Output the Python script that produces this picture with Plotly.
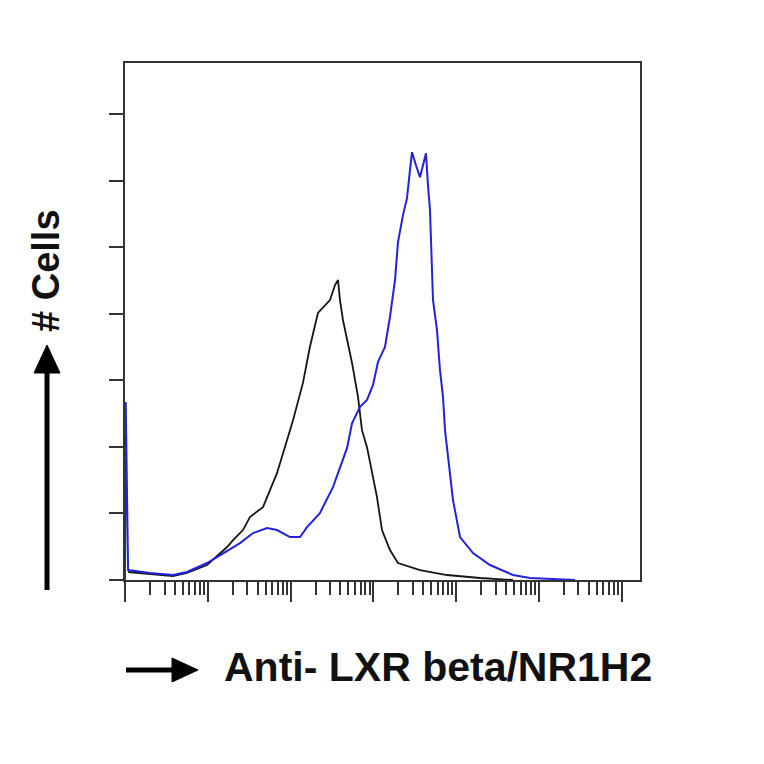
import plotly.graph_objects as go

# Fluorescence intensity (log axis) and cell counts
blue_x = [1.0, 1.02, 1.09, 2.0, 3.8, 5.6, 9.8, 15.3, 24.5, 35.2, 51.9, 68.5, 98.4,
          130, 158, 226, 325, 480, 552, 689, 837, 990, 1136, 1380, 1585, 1824, 1982,
          2276, 2545, 2767, 2925, 3268, 3654, 3972, 4316, 4563, 4827, 5245, 5861,
          6370, 6930, 7325, 8415, 9150, 11120, 15960, 25590, 48530, 77830, 135800,
          272200]
blue_y = [0, 53.5, 3.0, 2.1, 1.5, 2.4, 5.1, 8.1, 11.1, 14.1, 15.6, 15.0, 12.9,
          12.9, 15.9, 20.1, 27.9, 39.6, 47.1, 52.0, 54.1, 58.6, 65.5, 70.0, 79.0,
          90.1, 101.5, 109.6, 114.7, 123.1, 128.5, 124.6, 121.0, 124.6, 128.2,
          118.6, 111.1, 84.1, 75.1, 63.1, 55.0, 45.0, 33.0, 24.0, 12.9, 8.1, 4.5,
          1.5, 0.6, 0.3, 0]

black_x = [1.09, 2.0, 3.8, 5.6, 9.8, 17.1, 20.2, 26.6, 32.3, 46.4, 68.5, 98.4, 107,
           141, 171, 214, 299, 344, 374, 395, 429, 552, 652, 728, 837, 1105, 1270,
           1585, 1982, 3654, 7740, 19380, 48530]
black_y = [2.4, 1.8, 1.2, 2.1, 4.5, 9.9, 12.0, 15.0, 18.9, 21.9, 32.1, 45.0, 48.0,
           59.2, 70.0, 80.2, 84.1, 88.6, 90.1, 84.1, 78.1, 65.2, 55.0, 45.0, 39.9,
           24.9, 15.0, 9.0, 5.1, 3.0, 1.5, 0.6, 0]

major_ticks = [1, 10, 100, 1000, 10000, 100000, 1000000]
minor_ticks = [d * 10 ** k for k in range(6) for d in range(2, 10)]

# plot area in screen pixels (page body has an 8px margin)
L, R, T, B = 125, 640, 63, 580
OFF = 8


def px(x, y):
    return (x - L) / (R - L), (B - y) / (B - T)


fig = go.Figure()

fig.add_trace(go.Scatter(x=black_x, y=black_y, mode='lines',
                         line=dict(color='#151515', width=1.8), showlegend=False))
fig.add_trace(go.Scatter(x=blue_x, y=blue_y, mode='lines',
                         line=dict(color='#2222dd', width=2), showlegend=False))

axis_style = dict(showgrid=False, zeroline=False, showticklabels=False,
                  showline=True, linecolor='#333333', linewidth=2, mirror=True,
                  ticks='outside', tickcolor='#333333', tickwidth=2)

fig.update_layout(
    width=764, height=764,
    margin=dict(l=L - OFF, r=764 + OFF - R, t=T - OFF, b=764 + OFF - B),
    plot_bgcolor='white', paper_bgcolor='white',
    xaxis=dict(type='log', range=[0, 6.22], tickmode='array', tickvals=major_ticks,
               ticklen=20,
               minor=dict(tickmode='array', tickvals=minor_ticks, ticks='outside',
                          ticklen=13, tickwidth=2, tickcolor='#333333'),
               **axis_style),
    yaxis=dict(range=[0, 155.3], dtick=20, ticklen=14, **axis_style),
)

# arrows
shapes = []
x0, y0 = px(47, 590)
x1, y1 = px(47, 368)
shapes.append(dict(type='line', xref='paper', yref='paper', x0=x0, y0=y0, x1=x1, y1=y1,
                   line=dict(color='black', width=5)))
a, b, c = px(47, 345), px(34, 373), px(60, 373)
shapes.append(dict(type='path', xref='paper', yref='paper',
                   path=f'M {a[0]} {a[1]} L {b[0]} {b[1]} L {c[0]} {c[1]} Z',
                   fillcolor='black', line=dict(color='black', width=1)))
x0, y0 = px(126, 670)
x1, y1 = px(176, 670)
shapes.append(dict(type='line', xref='paper', yref='paper', x0=x0, y0=y0, x1=x1, y1=y1,
                   line=dict(color='black', width=5)))
a, b, c = px(198, 670), px(172, 658), px(172, 682)
shapes.append(dict(type='path', xref='paper', yref='paper',
                   path=f'M {a[0]} {a[1]} L {b[0]} {b[1]} L {c[0]} {c[1]} Z',
                   fillcolor='black', line=dict(color='black', width=1)))
fig.update_layout(shapes=shapes)

tx, ty = px(438, 667)
fig.add_annotation(text='<b>Anti- LXR beta/NR1H2</b>', xref='paper', yref='paper',
                   x=tx, y=ty, showarrow=False, xanchor='center', yanchor='middle',
                   font=dict(family='Liberation Sans, Arial', size=41, color='#111111'))
tx, ty = px(46, 271)
fig.add_annotation(text='<b># Cells</b>', xref='paper', yref='paper', textangle=-90,
                   x=tx, y=ty, showarrow=False, xanchor='center', yanchor='middle',
                   font=dict(family='Liberation Sans, Arial', size=38, color='#111111'))

fig.write_html("out.html")
